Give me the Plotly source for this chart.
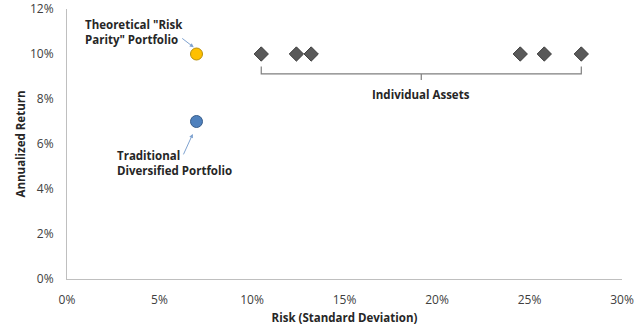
import plotly.graph_objects as go

# Risk / return figures (in percent)
asset_risk = [10.5, 12.4, 13.2, 24.5, 25.8, 27.8]
asset_return = [10, 10, 10, 10, 10, 10]
risk_parity = (7.0, 10.0)
traditional = (7.0, 7.0)

x_ticks = [0, 5, 10, 15, 20, 25, 30]
y_ticks = [0, 2, 4, 6, 8, 10, 12]

FONT = "Open Sans"
AXIS_GRAY = "#BFBFBF"
TEXT = "#404040"

fig = go.Figure()

fig.add_trace(go.Scatter(
    x=asset_risk, y=asset_return, mode="markers",
    marker=dict(symbol="diamond", size=11, color="#595959",
                line=dict(color="#3f3f3f", width=1)),
    showlegend=False, hoverinfo="skip"))

fig.add_trace(go.Scatter(
    x=[risk_parity[0]], y=[risk_parity[1]], mode="markers",
    marker=dict(symbol="circle", size=12, color="#FFC000",
                line=dict(color="#B8900A", width=1)),
    showlegend=False, hoverinfo="skip"))

fig.add_trace(go.Scatter(
    x=[traditional[0]], y=[traditional[1]], mode="markers",
    marker=dict(symbol="circle", size=12, color="#4F81BD",
                line=dict(color="#385D8A", width=1)),
    showlegend=False, hoverinfo="skip"))

# Bracket spanning the individual assets
lo, hi = min(asset_risk), max(asset_risk)
mid = (lo + hi) / 2
top, base, tip = 9.45, 9.12, 8.85
brace = (f"M {lo},{top} L {lo},{base} L {hi},{base} L {hi},{top} "
         f"M {mid},{base} L {mid},{tip}")
fig.add_shape(type="path", path=brace, xref="x", yref="y",
              line=dict(color="#7F7F7F", width=1.2))

fig.add_annotation(x=mid, y=8.2, xref="x", yref="y", text="<b>Individual Assets</b>",
                   showarrow=False, font=dict(family=FONT, size=11.5, color="#262626"))

# Portfolio labels with arrows
fig.add_annotation(x=risk_parity[0] - 0.15, y=risk_parity[1] + 0.3, xref="x", yref="y",
                   ax=-13, ay=-10, text="", showarrow=True, arrowhead=2, arrowsize=0.8,
                   arrowwidth=1, arrowcolor="#7FA3D0")
fig.add_annotation(x=0.85, y=11.0, xref="x", yref="y", xanchor="left",
                   text="<b>Theoretical \"Risk<br>Parity\" Portfolio</b>", align="left",
                   showarrow=False, font=dict(family=FONT, size=11.5, color="#262626"))

fig.add_annotation(x=traditional[0] - 0.2, y=traditional[1] - 0.55, xref="x", yref="y",
                   ax=-10, ay=22, text="", showarrow=True, arrowhead=2, arrowsize=0.8,
                   arrowwidth=1, arrowcolor="#7FA3D0")
fig.add_annotation(x=2.6, y=5.15, xref="x", yref="y", xanchor="left",
                   text="<b>Traditional<br>Diversified Portfolio</b>", align="left",
                   showarrow=False, font=dict(family=FONT, size=11.5, color="#262626"))

fig.update_layout(
    width=640, height=327,
    margin=dict(l=67, r=18, t=9, b=48),
    paper_bgcolor="white", plot_bgcolor="white",
    font=dict(family=FONT, color=TEXT, size=12),
    xaxis=dict(range=[0, 30.0001], tickvals=x_ticks,
               ticktext=[f"{v}%" for v in x_ticks],
               showgrid=False, zeroline=False, showline=True,
               linecolor=AXIS_GRAY, linewidth=1, ticks="",
               ticklabelstandoff=10, automargin=False,
               tickfont=dict(family=FONT, size=12, color=TEXT),
               title=dict(text="<b>Risk (Standard Deviation)</b>", standoff=6,
                          font=dict(family=FONT, size=11.5, color="#262626"))),
    yaxis=dict(range=[0, 12.0001], tickvals=y_ticks,
               ticktext=[f"{v}%" for v in y_ticks],
               showgrid=False, zeroline=False, showline=True,
               linecolor=AXIS_GRAY, linewidth=1, ticks="",
               ticklabelstandoff=10, automargin=False,
               ticklabeloverflow="allow",
               tickfont=dict(family=FONT, size=12, color=TEXT),
               title=dict(text="<b>Annualized Return</b>", standoff=1,
                          font=dict(family=FONT, size=11.5, color="#262626"))),
)

fig.write_html("out.html")
